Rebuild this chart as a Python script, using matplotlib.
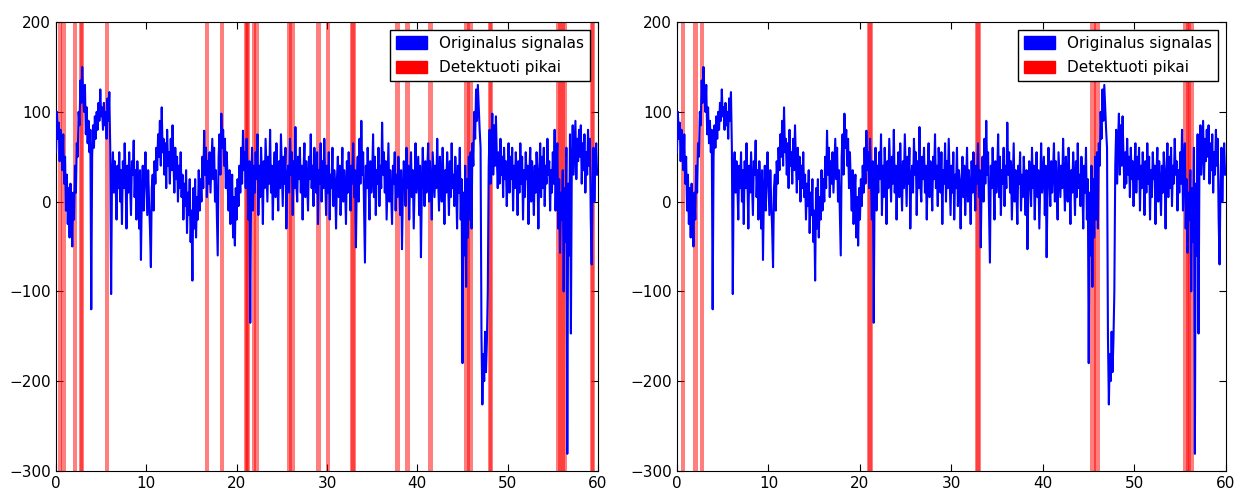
import matplotlib
matplotlib.use("Agg")
import matplotlib.pyplot as plt
import matplotlib.patches as mpatches
import numpy as np

# Signalas, 10 atskaitu per sekunde (reiksmes nuskaitytos is paveikslo)
sig_00_10 = [
    55, 100, 70, 88, 45, 80, 60, 35, 75, 20,
    50, -10, 30, -25, 15, -40, 20, -5, -50, 10,
    -20, 40, 10, 65, 50, 100, 85, 135, 110, 150,
    120, 100, 130, 75, 105, 65, 90, 55, 80, -120,
    50, 85, 60, 95, 70, 100, 80, 110, 90, 125,
    95, 105, 80, 110, 85, 100, 70, 115, 90, 122,
    60, -103, 30, 55, 10, 45, 20, -20, 40, 15,
    55, 0, 35, -25, 45, 15, 65, 25, -30, 40,
    10, 55, 20, -15, 45, 30, 68, 5, 35, -20,
    45, 15, -30, 35, -65, 10, 40, -10, 25, 55,
]
sig_10_20 = [
    20, -15, 35, 0, -30, -73, 15, 30, -10, 45,
    20, 60, 35, 75, 50, 90, 40, 105, 55, 70,
    30, 65, 15, 80, 40, 55, 20, 70, 35, 85,
    45, 10, 60, 25, 50, 0, 40, 15, 55, 5,
    30, -20, 20, -5, 35, -35, 10, -15, 25, -45,
    -10, -88, 15, -30, 25, -40, 5, -20, 35, -10,
    25, 0, 50, 15, 79, 30, 60, 5, 45, 20,
    55, 10, 40, 70, 25, 60, 0, 35, -15, -60,
    50, 75, 30, 98, 60, 80, 40, 70, 15, 55,
    20, -10, 35, -25, 10, 30, -40, 5, -49, 15,
]
sig_20_30 = [
    -20, 25, -5, 40, 10, 60, 20, 79, 35, 55,
    15, 70, 30, -20, 45, -135, 20, 60, -10, 40,
    10, 55, 25, 75, -15, 40, 5, 60, 30, -25,
    45, 15, 70, 35, 0, 50, 20, 80, 10, 40,
    -20, 30, 55, 5, 65, 25, -10, 45, 15, 75,
    35, -5, 50, 20, 60, -30, 25, 40, 10, 70,
    30, 55, -15, 45, 15, 83, 20, 0, 50, 25,
    60, 10, 40, -20, 35, 65, 5, 45, 20, -10,
    50, 25, 75, 15, 40, -5, 60, 30, 10, 55,
    -25, 35, 20, 65, 0, 45, 15, 70, 25, -15,
]
sig_30_40 = [
    40, 10, 55, -20, 30, 15, 60, -5, 35, 20,
    -30, 25, 50, 5, 40, -15, 20, 60, 0, 35,
    15, -25, 45, 10, 55, 30, -10, 40, 20, 65,
    5, 35, -51, 25, 50, 0, 70, 20, 90, 30,
    55, -10, -68, 40, 15, 60, 25, -20, 45, 10,
    30, 75, 5, 50, -15, 35, 20, 60, -5, 40,
    15, 88, 30, 55, 10, 45, -20, 25, 65, 0,
    35, 10, -25, 40, 20, 55, -10, 30, 5, 50,
    20, -15, 35, -53, 10, 45, 25, -5, 60, 15,
    40, -20, 25, 55, 5, 35, -30, 20, 65, 10,
]
sig_40_50 = [
    30, 50, -15, 40, -62, 15, 60, 25, -5, 45,
    10, 35, 65, 0, 45, 20, -20, 55, 30, 5,
    40, 15, 70, 25, -10, 50, 30, 0, 60, 20,
    -25, 35, 10, 55, 25, -15, 45, 5, 65, 15,
    30, -5, 50, 20, -30, 40, 10, 60, -20, 25,
    -180, 10, -60, 40, -95, 25, -40, 50, -20, 55,
    -30, 65, 40, 100, 70, 125, 90, 130, 105, 80,
    60, -150, -226, -170, -200, -145, -190, -155, -100, 40,
    80, 20, 65, 98, 30, 85, 40, 95, 50, 15,
    55, 20, 70, 30, 50, 5, 60, 25, 45, -5,
]
sig_50_60 = [
    35, 65, 10, 50, 25, 60, -10, 40, 15, 55,
    30, -15, 45, 10, 65, 20, 50, -20, 35, 5,
    55, 25, 40, -25, 30, 60, 0, 45, 20, -15,
    40, 10, 55, 30, -30, 35, 65, 5, 50, 15,
    60, -5, 40, 20, 70, 30, 45, -10, 35, 10,
    55, 20, 80, -10, 40, 65, -30, 25, -57, 10,
    -20, 35, -100, 15, -45, 60, -281, 20, -60, 75,
    -147, 40, 85, 30, 60, 90, 25, 70, 45, 80,
    50, 85, 20, 65, 35, 75, 10, 55, 30, 80,
    40, 70, -20, -70, 20, 60, 0, 45, 65, 30,
]
FS = 10  # atskaitos per sekunde

# Detektuoti pikai (pradzia, pabaiga sekundemis)
peaks_left_start = [0.26, 0.55, 1.85, 2.5, 2.6, 5.4, 16.47, 18.1, 20.78, 20.9, 21.0,
                    21.7, 21.9, 25.58, 25.8, 28.8, 29.86, 32.56, 32.7, 37.57, 38.68,
                    41.23, 45.18, 45.5, 47.8, 47.9, 55.3, 55.6, 55.9, 59.06, 59.2]
peaks_left_end = [0.7, 1.1, 2.36, 3.1, 3.0, 5.83, 16.98, 18.57, 21.2, 21.48, 21.4,
                  22.1, 22.45, 26.1, 26.43, 29.3, 30.38, 33.2, 33.1, 38.1, 39.2,
                  41.75, 45.8, 46.2, 48.43, 48.3, 55.9, 56.3, 56.55, 59.7, 59.6]

peaks_right_start = [0.4, 1.75, 2.48, 20.75, 20.9, 32.55, 32.7, 45.1, 45.55, 55.35, 55.9, 55.6]
peaks_right_end = [0.9, 2.3, 3.0, 21.45, 21.3, 33.2, 33.1, 45.75, 46.2, 55.95, 56.55, 56.2]


def draw_panel(ax, t, signal, starts, ends):
    ax.plot(t, signal, color="blue", lw=1.5, zorder=3)
    for a, b in zip(starts, ends):
        ax.axvspan(a, b, color="red", alpha=0.5, lw=0, zorder=2)
    ax.set_xlim(0, 60)
    ax.set_ylim(-300, 200)
    ax.set_xticks(range(0, 61, 10))
    ax.set_yticks(range(-300, 201, 100))
    ax.tick_params(direction="in", top=True, right=True, labelsize=11, length=5)
    handles = [mpatches.Patch(color="blue", label="Originalus signalas"),
               mpatches.Patch(color="red", label="Detektuoti pikai")]
    leg = ax.legend(handles=handles, loc="upper right", fontsize=11,
                    fancybox=False, framealpha=1, handlelength=2.0,
                    handleheight=0.85, labelspacing=0.6)
    leg.get_frame().set_edgecolor("black")
    leg.set_zorder(5)


signal = np.array(sig_00_10 + sig_10_20 + sig_20_30 + sig_30_40 + sig_40_50 + sig_50_60)
t = np.arange(len(signal)) / FS

fig = plt.figure(figsize=(12.34, 4.91), dpi=100)
ax1 = fig.add_axes([0.0454, 0.041, 0.4392, 0.914])
ax2 = fig.add_axes([0.5486, 0.041, 0.4449, 0.914])

draw_panel(ax1, t, signal, peaks_left_start, peaks_left_end)
draw_panel(ax2, t, signal, peaks_right_start, peaks_right_end)

fig.savefig("out.png", dpi=100)
